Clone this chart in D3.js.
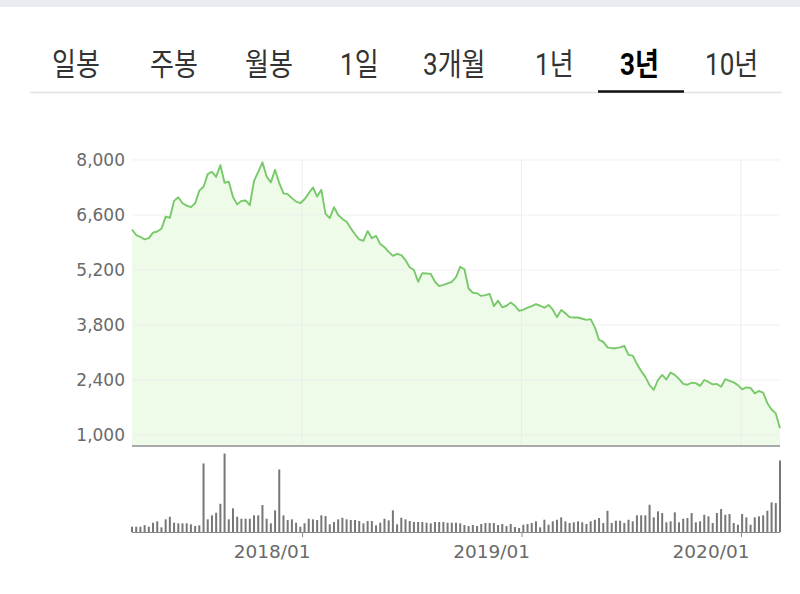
<!DOCTYPE html>
<html><head><meta charset="utf-8">
<script src="https://cdn.jsdelivr.net/npm/d3@7"></script>
<style>
html,body{margin:0;padding:0;background:#fff;}
svg{display:block;}
</style></head>
<body>
<svg id="c" width="800" height="594"></svg>
<script>
// ---- data ----
const tabs = ["일봉","주봉","월봉","1일","3개월","1년","3년","10년"];
const selectedTab = "3년";
const firstWeek = "2017-03-24";
const price = [
6230,6090,6040,5980,6010,6150,6180,6250,6560,6530,
6960,7050,6900,6840,6800,6900,7220,7320,7640,7700,
7570,7870,7420,7450,7060,6870,6960,6970,6850,7470,
7700,7940,7580,7430,7750,7410,7150,7130,7030,6940,
6900,7000,7150,7300,7070,7240,6630,6520,6800,6600,
6500,6430,6260,6110,5980,5940,6190,6010,6070,5860,
5780,5660,5560,5610,5580,5450,5270,5200,4900,5120,
5110,5100,4900,4790,4820,4860,4900,5020,5280,5220,
4730,4620,4610,4540,4560,4590,4280,4420,4250,4290,
4370,4290,4160,4190,4240,4280,4330,4290,4240,4310,
4190,4000,4180,4100,4000,3990,3990,3960,3930,3950,
3740,3420,3370,3230,3210,3210,3230,3270,3040,3020,
2810,2630,2480,2270,2150,2400,2530,2410,2590,2530,
2430,2300,2280,2330,2320,2250,2400,2350,2290,2300,
2230,2420,2380,2340,2270,2160,2210,2200,2060,2120,
2080,1810,1650,1550,1170
];
const volume = [
106,106,106,138,106,186,214,94,254,306,
186,174,174,174,154,120,134,1374,254,334,
386,566,1574,254,474,306,266,266,266,334,
334,540,266,174,434,1254,334,240,254,186,
106,174,266,254,240,334,320,154,200,254,
286,254,240,240,220,174,220,220,134,186,
266,234,434,154,286,254,220,200,200,200,
186,174,200,200,200,186,186,186,174,140,
120,140,120,160,180,180,180,140,160,120,
160,100,80,146,160,180,214,94,246,146,
214,246,294,214,180,194,214,194,160,214,
246,280,180,426,180,226,226,180,246,214,
334,334,334,546,294,414,380,194,214,394,
194,266,280,380,194,214,346,314,180,380,
460,346,360,180,146,360,294,146,294,314,
334,426,594,580,1434
];
const yTicks = [1000,2400,3800,5200,6600,8000];
const xTicks = ["2018-01-01","2019-01-01","2020-01-01"];

// ---- layout ----
const W = 800, H = 594;
const L = 132, R = 780;
const priceTop = 160, priceBottom = 435, priceBase = 446;
const volBase = 532, volTop = 453.5;
const tabLeft = [52,150,245,340,423,535,620,705];

const svg = d3.select("#c");
const parse = d3.timeParse("%Y-%m-%d");
const start = parse(firstWeek);
const dates = price.map((_, i) => d3.timeDay.offset(start, 7 * i));

// top band
svg.append("rect").attr("x",0).attr("y",0).attr("width",W).attr("height",7).attr("fill","#e8ebef");

// tabs
const tabG = svg.append("g");
tabs.forEach((t, i) => {
  tabG.append("text")
    .attr("transform", `translate(${tabLeft[i]},75) scale(0.84,1)`)
    .attr("font-family", "Roboto, 'Noto Sans CJK KR', sans-serif")
    .attr("font-size", 31)
    .attr("font-weight", t === selectedTab ? 700 : 400)
    .attr("fill", t === selectedTab ? "#000" : "#333")
    .text(t);
});
svg.append("line").attr("x1",30).attr("x2",782).attr("y1",92.5).attr("y2",92.5).attr("stroke","#e2e2e2").attr("stroke-width",1.5);
svg.append("line").attr("x1",598).attr("x2",684).attr("y1",91.5).attr("y2",91.5).attr("stroke","#111").attr("stroke-width",2.5);

// scales
const x = d3.scaleTime().domain([dates[0], dates[dates.length-1]]).range([L, R]);
const y = d3.scaleLinear().domain([1000, 8000]).range([priceBottom, priceTop]);
const v = d3.scaleLinear().domain([0, d3.max(volume)]).range([volBase, volTop]);
const xt = xTicks.map(parse);

// area
const area = d3.area().x((d,i) => x(dates[i])).y0(priceBase).y1(d => y(d));
svg.append("path").datum(price).attr("d", area).attr("fill", "#eefbe8");

// grid
const grid = svg.append("g");
grid.selectAll("line.h").data(yTicks).join("line")
  .attr("x1", L).attr("x2", R).attr("y1", d => y(d)).attr("y2", d => y(d))
  .attr("stroke", "#ececec").attr("stroke-opacity", 0.8).attr("stroke-width", 1);
grid.selectAll("line.v").data(xt).join("line")
  .attr("x1", d => x(d)).attr("x2", d => x(d)).attr("y1", priceTop).attr("y2", priceBase)
  .attr("stroke", "#e8e8e8").attr("stroke-opacity", 0.8).attr("stroke-width", 1);

// line
const line = d3.line().x((d,i) => x(dates[i])).y(d => y(d));
svg.append("path").datum(price).attr("d", line).attr("fill", "none")
  .attr("stroke", "#78c96a").attr("stroke-width", 1.9).attr("stroke-linejoin", "round");

// price base line
svg.append("line").attr("x1", L).attr("x2", R).attr("y1", priceBase).attr("y2", priceBase)
  .attr("stroke", "#a9a9a9").attr("stroke-width", 2);

// y axis labels
const yAxis = d3.axisLeft(y).tickValues(yTicks).tickSize(0).tickPadding(7).tickFormat(d3.format(","));
const ya = svg.append("g").attr("transform", `translate(${L},0)`).call(yAxis);
ya.select(".domain").remove();
ya.selectAll("text").attr("font-family", "'DejaVu Sans', Verdana, sans-serif").attr("font-size", 17).attr("fill", "#6a6a6a");

// volume bars
svg.append("g").selectAll("rect").data(volume).join("rect")
  .attr("x", (d,i) => x(dates[i]) - 1).attr("width", 2)
  .attr("y", d => v(d)).attr("height", d => volBase - v(d))
  .attr("fill", "#777");

// x axis
const xAxis = d3.axisBottom(x).tickValues(xt).tickSize(5).tickFormat(d3.timeFormat("%Y/%m"));
const xa = svg.append("g").attr("transform", `translate(0,${volBase})`).call(xAxis);
xa.select(".domain").attr("d", `M${L},0.5H${R}`).attr("stroke", "#888");
xa.selectAll(".tick line").attr("stroke", "#888");
xa.selectAll("text").attr("font-family", "'DejaVu Sans', Verdana, sans-serif").attr("font-size", 18.5)
  .attr("fill", "#6a6a6a").attr("text-anchor", "end").attr("dx", 8).attr("y", 13);
</script>
</body></html>
